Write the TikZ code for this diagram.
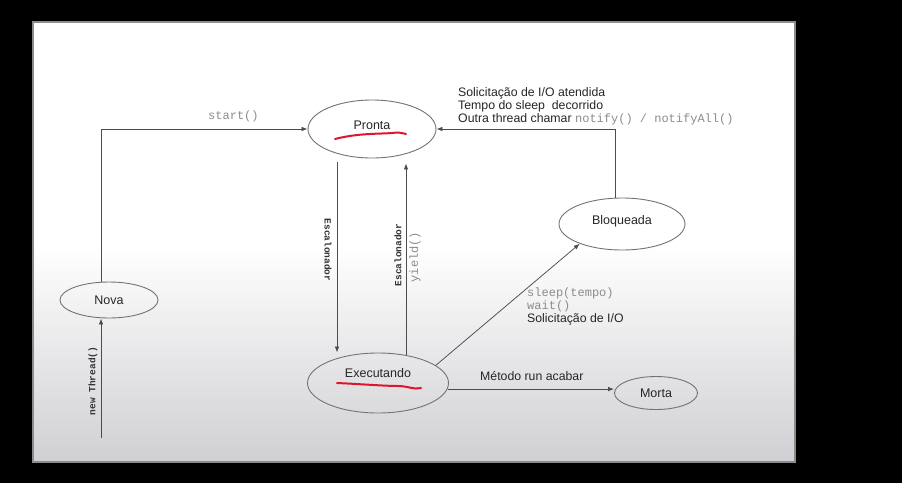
\documentclass[tikz,border=0pt]{standalone}
\usepackage{fontspec}
\setmainfont{Liberation Sans}
\setmonofont{Liberation Mono}
\usetikzlibrary{shapes.geometric,arrows.meta}
\definecolor{slidebot}{HTML}{D0D0D4}
\definecolor{inkred}{HTML}{E0142D}
\newcommand{\liftto}[2]{\raisebox{#1}[0pt][0pt]{#2}}

\begin{document}
\begin{tikzpicture}[x=1pt, y=-1pt, >={Latex[length=6pt,width=4.5pt]},
    state/.style={ellipse, draw=black!55, line width=0.9pt, inner sep=0pt,
                  font=\fontsize{12.5}{14}\selectfont, text=black!85},
    flow/.style={->, draw=black!70, line width=0.75pt},
    code/.style={font=\ttfamily\fontsize{12}{13}\selectfont, text=black!45, inner sep=0pt},
    rot/.style={font=\ttfamily\bfseries\fontsize{9.5}{10}\selectfont, text=black!80, inner sep=0pt},
    note/.style={font=\fontsize{12.3}{13}\selectfont, text=black!85, inner sep=0pt},
    ink/.style={draw=inkred, line width=2pt, line cap=round}]
  % screen and slide
  \useasboundingbox (0,0) rectangle (902,483);
  \fill[black] (0,0) rectangle (902,483);
  \fill[white] (33,22) rectangle (795,245);
  \shade[top color=white, bottom color=slidebot] (33,245) rectangle (795,462);
  \draw[black!45, line width=1.2pt] (33,22) rectangle (795,462);

  % states
  \node[state, minimum width=128pt, minimum height=58pt] (pronta) at (372,129) {\liftto{0pt}{Pronta}};
  \node[state, minimum width=141pt, minimum height=60pt] (exec) at (378,383) {\liftto{6pt}{Executando}};
  \node[state, minimum width=98pt, minimum height=36pt] (nova) at (109,300) {Nova};
  \node[state, minimum width=126pt, minimum height=52pt] (bloq) at (622,224) {\liftto{0pt}{Bloqueada}};
  \node[state, minimum width=83pt, minimum height=33pt] (morta) at (656,393) {Morta};

  % transitions
  \coordinate (newt) at (101,438);
  \coordinate (pgap) at ([yshift=-5pt]pronta.south);
  \draw[flow] (newt) -- (newt |- nova.south);
  \draw[flow] (nova.114) |- (pronta.west);
  \draw[flow] ([xshift=-35pt,yshift=-4pt]pronta.south) -- ([xshift=-35pt]pronta.south |- exec.north);
  \draw[flow] (exec.45) -- (exec.45 |- pgap);
  \draw[flow] (exec.17) -- (bloq.205);
  \draw[flow] (exec.-5) -- (exec.-5 -| morta.west);
  \draw[flow] (bloq.105) |- (pronta.east);

  % labels
  \node[code, anchor=base west] (start) at (208,119) {start()};
  \node[rot, rotate=90] (newthr) at (93,381) {new Thread()};
  \node[rot, rotate=-90] (esc1) at (328,250) {Escalonador};
  \node[rot, rotate=90] (esc2) at (398,255) {Escalonador};
  \node[code, rotate=90] (yield) at (415,257) {yield()};
  \node[note, anchor=base west] (wake1) at (458,96) {Solicitação de I/O atendida};
  \node[note, anchor=base west] (wake2) at (458,109) {Tempo do sleep \ decorrido};
  \node[note, anchor=base west] (wake3) at (458,122) {Outra thread chamar {\ttfamily\fontsize{12}{13}\selectfont\color{black!45}notify() / notifyAll()}};
  \node[code, anchor=base west] (sleep) at (527,296) {sleep(tempo)};
  \node[code, anchor=base west] (wait) at (527,309) {wait()};
  \node[note, anchor=base west] (io) at (527,322) {Solicitação de I/O};
  \node[note, anchor=base west] (runend) at (480,380) {Método run acabar};

  % red underlines
  \draw[ink] (335,139) .. controls (358,133) and (380,134) .. (392,133)
             .. controls (398,132) and (402,133) .. (406,134);
  \draw[ink] (337,383) .. controls (360,384) and (385,386) .. (398,386)
             .. controls (408,386) and (414,390) .. (421,388);
\end{tikzpicture}
\end{document}
